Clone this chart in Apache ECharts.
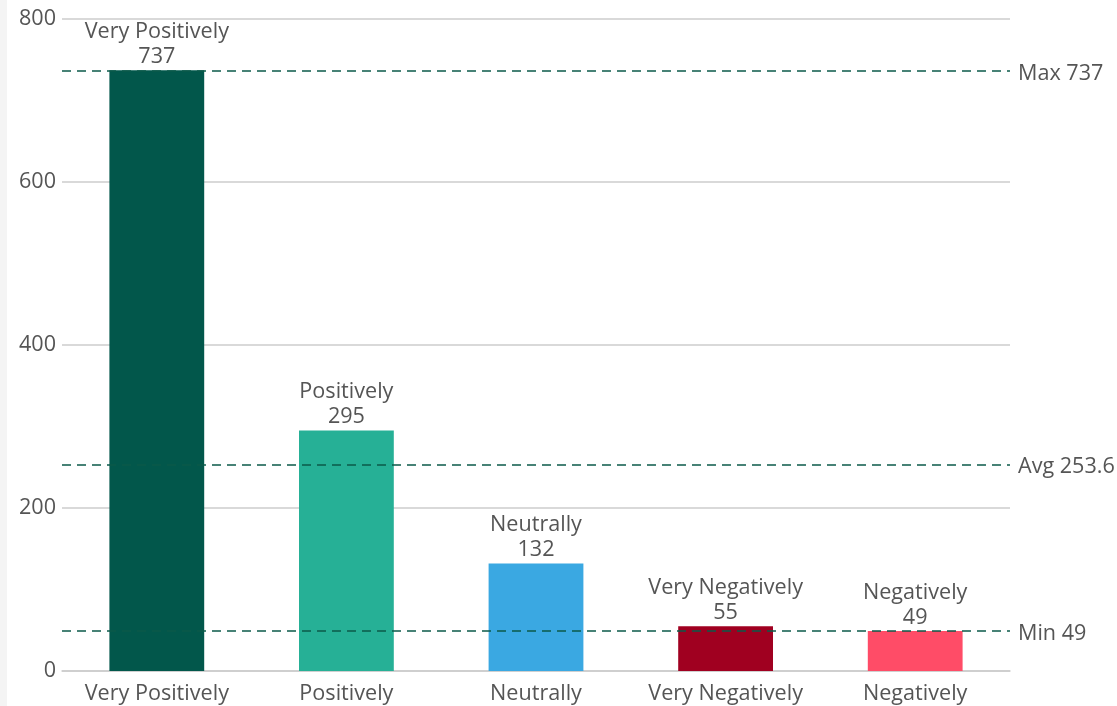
<!DOCTYPE html>
<html><head><meta charset="utf-8">
<script src="https://cdn.jsdelivr.net/npm/echarts@6/dist/echarts.min.js"></script>
<style>
html,body{margin:0;padding:0;background:#f4f4f4;}
#c{position:absolute;left:7px;top:0;width:1110px;height:706px;background:#fff;}
</style></head><body>
<div id="c"></div>
<script>
const categories = ['Very Positively','Positively','Neutrally','Very Negatively','Negatively'];
const values = [737, 295, 132, 55, 49];
const colors = ['#02574B','#26B096','#3AA8E2','#A00020','#FF4C67'];
const yTicks = [0, 200, 400, 600, 800];

const chart = echarts.init(document.getElementById('c'));
const font = '"Open Sans", "Noto Sans", sans-serif';
const fs = 21.6;
chart.setOption({
  animation: false,
  textStyle: {fontFamily: font},
  grid: {left: 55, right: 107, top: 19, bottom: 35, containLabel: false},
  xAxis: {
    type: 'category', data: categories,
    axisLine: {lineStyle: {color: '#ccc', width: 1.5}},
    axisTick: {show: false},
    axisLabel: {color: '#555', fontSize: fs, fontFamily: font, margin: 12, interval: 0, hideOverlap: false}
  },
  yAxis: {
    type: 'value', min: yTicks[0], max: yTicks[yTicks.length-1], interval: 200,
    axisLine: {show: false}, axisTick: {show: false},
    splitLine: {lineStyle: {color: '#ccc', width: 1.5}},
    axisLabel: {color: '#555', fontSize: fs, fontFamily: font, margin: 6}
  },
  series: [{
    type: 'bar',
    barWidth: '50%',
    data: values.map((v, i) => ({value: v, itemStyle: {color: colors[i]}})),
    label: {show: true, position: 'top', formatter: '{b}\n{c}', color: '#555', fontSize: fs, lineHeight: 25, fontFamily: font, distance: 1},
    markLine: {
      symbol: 'none',
      silent: true,
      lineStyle: {color: '#0B5A4A', type: [9, 6], width: 1.5},
      label: {position: 'end', formatter: '{b} {c}', color: '#555', fontSize: fs, fontFamily: font, distance: 8, offset: [0, 3]},
      data: [
        {type: 'max', name: 'Max'},
        {type: 'average', name: 'Avg'},
        {type: 'min', name: 'Min'}
      ]
    }
  }]
});
</script>
</body></html>
